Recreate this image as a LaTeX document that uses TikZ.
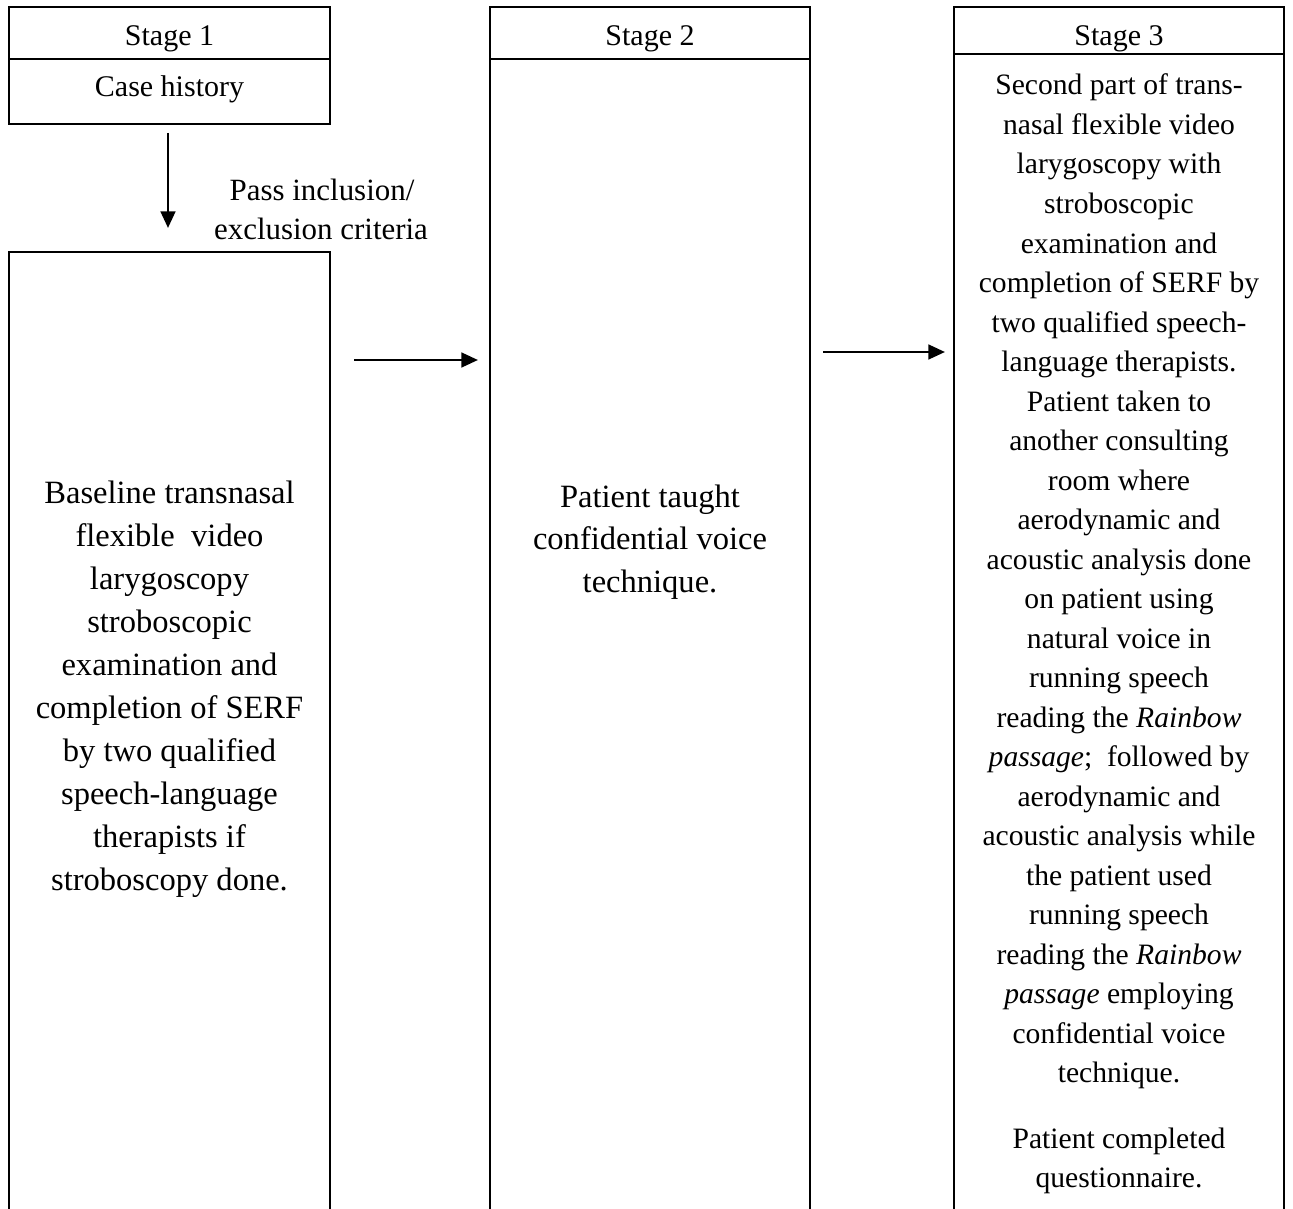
\documentclass[tikz,border=0pt]{standalone}
\usepackage{fontspec}
\setmainfont{Liberation Serif}
\usetikzlibrary{arrows.meta}
\begin{document}
\begin{tikzpicture}[x=0.75pt,y=-0.75pt,
  box/.style={draw, line width=1.5pt, inner sep=0pt, outer sep=0pt},
  arr/.style={line width=2pt, -{Triangle[length=12.5pt,width=11pt]}},
  hdtxt/.style={anchor=base, inner sep=0pt, font=\fontsize{22.5}{27}\selectfont},
  lbltxt/.style={anchor=base, inner sep=0pt, font=\fontsize{23.2}{27}\selectfont},
  bigtxt/.style={anchor=base, inner sep=0pt, font=\fontsize{24.4}{30}\selectfont},
  s3txt/.style={anchor=base, inner sep=0pt, font=\fontsize{22.2}{28}\selectfont}]
\useasboundingbox (0,0) rectangle (1293,1209);
\clip (0,0) rectangle (1293,1209);
% boxes
\node[box, minimum width=240.75pt, minimum height=39pt] (s1head) at (169.5,33) {};
\node[box, minimum width=240.75pt, minimum height=48.75pt] (s1case) at (169.5,91.5) {};
\node[box, minimum width=240.75pt, minimum height=733.5pt] (s1body) at (169.5,741) {};
\node[box, minimum width=240pt, minimum height=39pt] (s2head) at (650,33) {};
\node[box, minimum width=240pt, minimum height=878.25pt] (s2body) at (650,644.5) {};
\node[box, minimum width=247.5pt, minimum height=35.25pt] (s3head) at (1119,30.5) {};
\node[box, minimum width=247.5pt, minimum height=882pt] (s3body) at (1119,642) {};
% headers
\node[hdtxt] (h1) at (169.5,46) {Stage 1};
\node[hdtxt] (h2) at (650,46) {Stage 2};
\node[hdtxt] (h3) at (1119,46) {Stage 3};
\node[hdtxt] (case) at (169.5,97) {Case history};
\node[lbltxt] (pass1) at (322,201) {Pass inclusion/};
\node[lbltxt] (pass2) at (321,239) {exclusion criteria};
% stage 1 body
\foreach \t [count=\i] in {Baseline transnasal, flexible~ video, larygoscopy, stroboscopic, examination and, completion of SERF, by two qualified, speech-language, therapists if, stroboscopy done.}
  \node[bigtxt] (s1l\i) at (169.5,{503+(\i-1)*43}) {\t};
% stage 2 body
\foreach \t [count=\i] in {Patient taught, confidential voice, technique.}
  \node[bigtxt] (s2l\i) at (650,{507+(\i-1)*42.5}) {\t};
% stage 3 body
\foreach \t [count=\i] in {Second part of trans-, nasal flexible video, larygoscopy with, stroboscopic, examination and, completion of SERF by, two qualified speech-, language therapists., Patient taken to, another consulting, room where, aerodynamic and, acoustic analysis done, on patient using, natural voice in, running speech, {reading the \textit{Rainbow}}, {\textit{passage};~ followed by}, aerodynamic and, acoustic analysis while, the patient used, running speech, {reading the \textit{Rainbow}}, {\textit{passage} employing}, confidential voice, technique.}
  \node[s3txt] (s3l\i) at (1119,{95+(\i-1)*39.5}) {\t};
\node[s3txt] (s3q1) at (1119,1148) {Patient completed};
\node[s3txt] (s3q2) at (1119,1187) {questionnaire.};
% connectors
\coordinate (r1) at (0,360);
\coordinate (r2) at (0,352);
\draw[arr, shorten <=6.75pt, shorten >=18pt] (s1case.south -| 168,0) -- (s1body.north -| 168,0);
\draw[arr, shorten <=18pt, shorten >=9pt] (s1body.east |- r1) -- (s2body.west |- r1);
\draw[arr, shorten <=9.75pt, shorten >=6.75pt] (s2body.east |- r2) -- (s3body.west |- r2);
\end{tikzpicture}
\end{document}
